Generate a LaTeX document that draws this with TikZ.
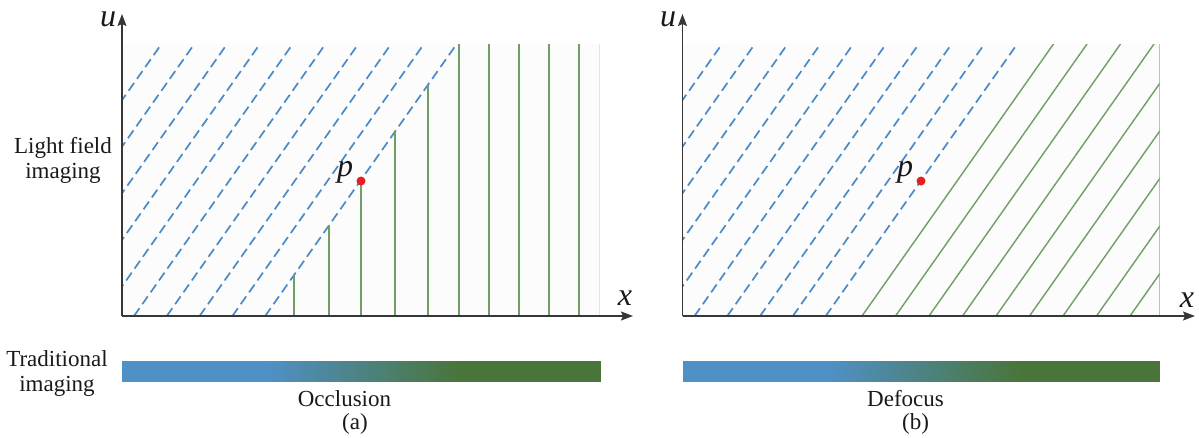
\documentclass[tikz,border=0pt]{standalone}
\usepackage{fontspec}
\setmainfont{Liberation Serif}
\usetikzlibrary{arrows.meta}
\definecolor{lfblue}{RGB}{74,138,198}
\definecolor{lfgreen}{RGB}{112,158,100}
\definecolor{barblue}{RGB}{79,144,199}
\definecolor{bargreen}{RGB}{74,117,58}
\definecolor{axisgray}{RGB}{55,55,55}
\definecolor{dotred}{RGB}{232,30,30}
\begin{document}
\begin{tikzpicture}[x=1pt,y=-1pt,
  axisline/.style={draw=axisgray, line width=1.5pt, -{Stealth[length=12pt,width=9pt,inset=2pt]}},
  bluedash/.style={draw=lfblue, line width=1.7pt, dash pattern=on 9.5pt off 5pt},
  greenline/.style={draw=lfgreen, line width=1.4pt},
  varlabel/.style={font=\fontsize{32}{32}\selectfont\itshape, inner sep=0pt, text=black!90},
  txt/.style={font=\fontsize{23}{25}\selectfont, inner sep=0pt, align=center, text=black!90},
  redpt/.style={fill=dotred, circle, inner sep=0pt, minimum size=9pt},
  plotbg/.style={fill=black!1},
  baredge/.style={line width=0.8pt}
]
\useasboundingbox (0,0) rectangle (1199,437);

% left labels
\node[txt] (lfi) at (63,160) {Light field\\imaging};
\node[txt] (ti) at (57,373) {Traditional\\imaging};

% ---------------- panel (a) ----------------
\begin{scope}[shift={(122,0)}]
  \fill[plotbg] (0,44) rectangle (477,316);
  \draw[black!10, baredge] (477,44) -- (477,316);
  \begin{scope}
    \clip (0,44) rectangle (477,316);
    \foreach \k in {0,...,9} {
      \pgfmathsetmacro\cc{143.2-32.8*\k}
      \draw[bluedash] (\cc,316) -- ++(191.5,-272);
    }
  \end{scope}
  \foreach \gx in {172,207,239,273,306} {
    \pgfmathsetmacro\gy{316-(\gx-143.2)*1.42}
    \draw[greenline] (\gx,316) -- (\gx,\gy);
  }
  \foreach \gx in {337,367,397,427,457}
    \draw[greenline] (\gx,316) -- (\gx,44);
  \coordinate (oa) at (0,316);
  \coordinate (xa-end) at (511,316);
  \coordinate (ua-end) at (0,14);
  \draw[axisline] (oa) -- (xa-end);
  \draw[axisline] (oa) -- (ua-end);
  \node[redpt] (pa) at (239,181) {};
  \node[varlabel] (pla) at (223,172) {p};
  \node[varlabel] (ula) at (-14,19) {u};
  \node[varlabel] (xla) at (503,298) {x};
  \fill[barblue] (0,361) rectangle (146,382);
  \foreach \i in {0,...,47} {
    \pgfmathtruncatemacro\pc{round(100*(\i+0.5)/48)}
    \fill[bargreen!\pc!barblue] (145+4*\i,361) rectangle (150+4*\i,382);
  }
  \fill[bargreen] (337,361) rectangle (479,382);
  \node[txt, anchor=base] (occ) at (222.5,406) {Occlusion};
  \node[txt, anchor=base] (capa) at (233,429) {(a)};
\end{scope}

% ---------------- panel (b) ----------------
\begin{scope}[shift={(682.5,0)}]
  \fill[plotbg] (0,44) rectangle (477,316);
  \draw[black!25, baredge] (477,44) -- (477,316);
  \begin{scope}
    \clip (0,44) rectangle (477,316);
    \foreach \k in {0,...,9} {
      \pgfmathsetmacro\cc{143.2-32.8*\k}
      \draw[bluedash] (\cc,316) -- ++(191.5,-272);
    }
    \foreach \j in {0,...,8} {
      \pgfmathsetmacro\cc{179.5+33.5*\j}
      \draw[greenline] (\cc,316) -- ++(191.5,-272);
    }
  \end{scope}
  \coordinate (ob) at (0,316);
  \coordinate (xb-end) at (512.5,316);
  \coordinate (ub-end) at (0,14);
  \draw[axisline] (ob) -- (xb-end);
  \draw[axisline] (ob) -- (ub-end);
  \node[redpt] (pb) at (238.5,181) {};
  \node[varlabel] (plb) at (222.5,172) {p};
  \node[varlabel] (ulb) at (-14.5,19) {u};
  \node[varlabel] (xlb) at (504.5,300) {x};
  \fill[barblue] (0,361) rectangle (146,382);
  \foreach \i in {0,...,47} {
    \pgfmathtruncatemacro\pc{round(100*(\i+0.5)/48)}
    \fill[bargreen!\pc!barblue] (145+4*\i,361) rectangle (150+4*\i,382);
  }
  \fill[bargreen] (337,361) rectangle (477,382);
  \node[txt, anchor=base] (dfc) at (223,406) {Defocus};
  \node[txt, anchor=base] (capb) at (233,429) {(b)};
\end{scope}
\end{tikzpicture}
\end{document}
